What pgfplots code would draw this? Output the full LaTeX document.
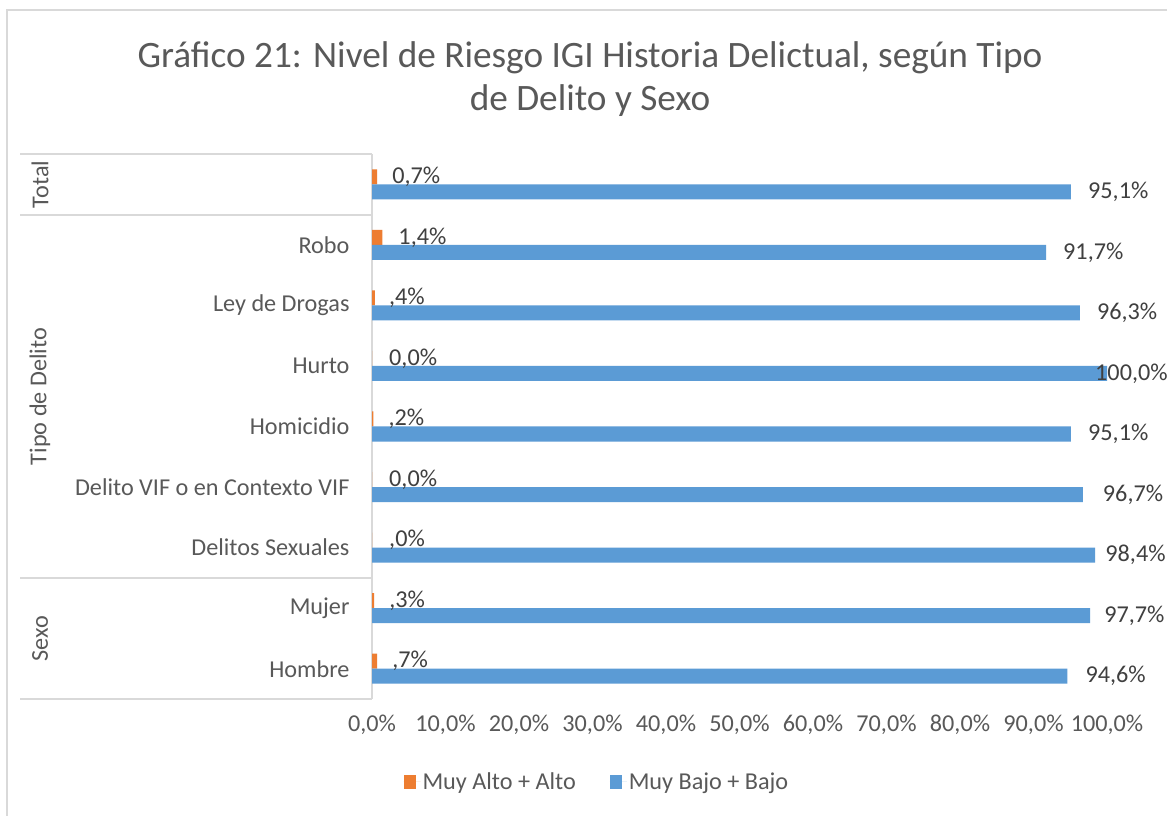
\documentclass[border=0pt]{standalone}
\usepackage{fontspec}
\setmainfont{Carlito}
\usepackage{pgfplots}
\pgfplotsset{compat=1.18}
\usepackage{pgfplotstable}
\definecolor{orangeS}{HTML}{ED7D31}
\definecolor{blueS}{HTML}{5B9BD5}
\definecolor{txt}{HTML}{595959}
\definecolor{lbl}{HTML}{404040}
\definecolor{gridc}{HTML}{D9D9D9}
\newcommand\lab{\fontsize{24.3}{29}\selectfont}

\pgfplotstableread{
y v lab dx
8 0.7 0,7 15
7 1.4 1,4 16
6 0.4 ,4 14
5 0.0 0,0 17
4 0.2 ,2 15
3 0.0 0,0 17
2 0.0 ,0 17
1 0.3 ,3 15
0 0.7 ,7 15
}\alto

\pgfplotstableread{
y v lab dx
8 95.1 95,1 17
7 91.7 91,7 17
6 96.3 96,3 17
5 100.0 100,0 -12
4 95.1 95,1 17
3 96.7 96,7 20
2 98.4 98,4 10
1 97.7 97,7 14
0 94.6 94,6 18
}\bajo

\begin{document}
\begin{tikzpicture}
\useasboundingbox (0,0) rectangle (1167bp,816bp);
\fill[white] (0,0) rectangle (1167bp,816bp);
\draw[gridc, line width=2bp] (7bp,0) -- (7bp,806bp) -- (1167bp,806bp);
\node[text=txt, font=\fontsize{37.4}{43}\selectfont, align=center] at (590bp,737bp)
  {Gráfico 21: Nivel de Riesgo IGI Historia Delictual, según Tipo\\de Delito y Sexo};
\foreach \yy in {662,601,238,117} {\draw[gridc, line width=1.5bp] (20bp,\yy bp) -- (372bp,\yy bp);}
\node[rotate=90, text=txt, font=\lab] at (40bp,631.5bp) {Total};
\node[rotate=90, text=txt, font=\lab] at (40bp,419.5bp) {Tipo de Delito};
\node[rotate=90, text=txt, font=\lab] at (40bp,177.5bp) {Sexo};
\begin{axis}[
  at={(372bp,117bp)}, anchor=south west, scale only axis,
  width=735bp, height=545bp,
  xmin=0, xmax=100, ymin=-0.5, ymax=8.5, enlargelimits=false,
  xbar, bar width=15bp, clip=false,
  axis lines*=left,
  x axis line style={draw=none},
  y axis line style={gridc, line width=1.5bp, -},
  major tick length=0pt,
  xtick={0,10,...,100},
  xticklabels={{0,0\%},{10,0\%},{20,0\%},{30,0\%},{40,0\%},{50,0\%},{60,0\%},{70,0\%},{80,0\%},{90,0\%},{100,0\%}},
  ytick={0,...,8},
  yticklabels={Hombre,Mujer,Delitos Sexuales,Delito VIF o en Contexto VIF,Homicidio,Hurto,Ley de Drogas,Robo,{}},
  ticklabel style={font=\lab, text=txt},
  xticklabel style={yshift=-12bp},
  yticklabel style={xshift=-19bp},
  legend columns=2,
  legend style={at={(0.306,-0.152)}, anchor=center, draw=none, fill=none, font=\lab, text=txt,
    /tikz/every even column/.append style={column sep=32bp}},
  legend image code/.code={\fill[#1] (0bp,-7.5bp) rectangle (12bp,7bp); \path (0bp,0bp) -- (17bp,0bp);},
  point meta=explicit symbolic,
  visualization depends on={\thisrow{dx}\as\dx},
  nodes near coords={\pgfplotspointmeta\%},
  every node near coord/.append style={anchor=west, inner sep=0pt, xshift=\dx bp, font=\lab, text=lbl},
]
\addplot[fill=orangeS, draw=none, bar shift=7.5bp] table[x=v, y=y, meta=lab] {\alto};
\addplot[fill=blueS, draw=none, bar shift=-7.5bp] table[x=v, y=y, meta=lab] {\bajo};
\legend{Muy Alto + Alto, Muy Bajo + Bajo}
\end{axis}
\end{tikzpicture}
\end{document}
